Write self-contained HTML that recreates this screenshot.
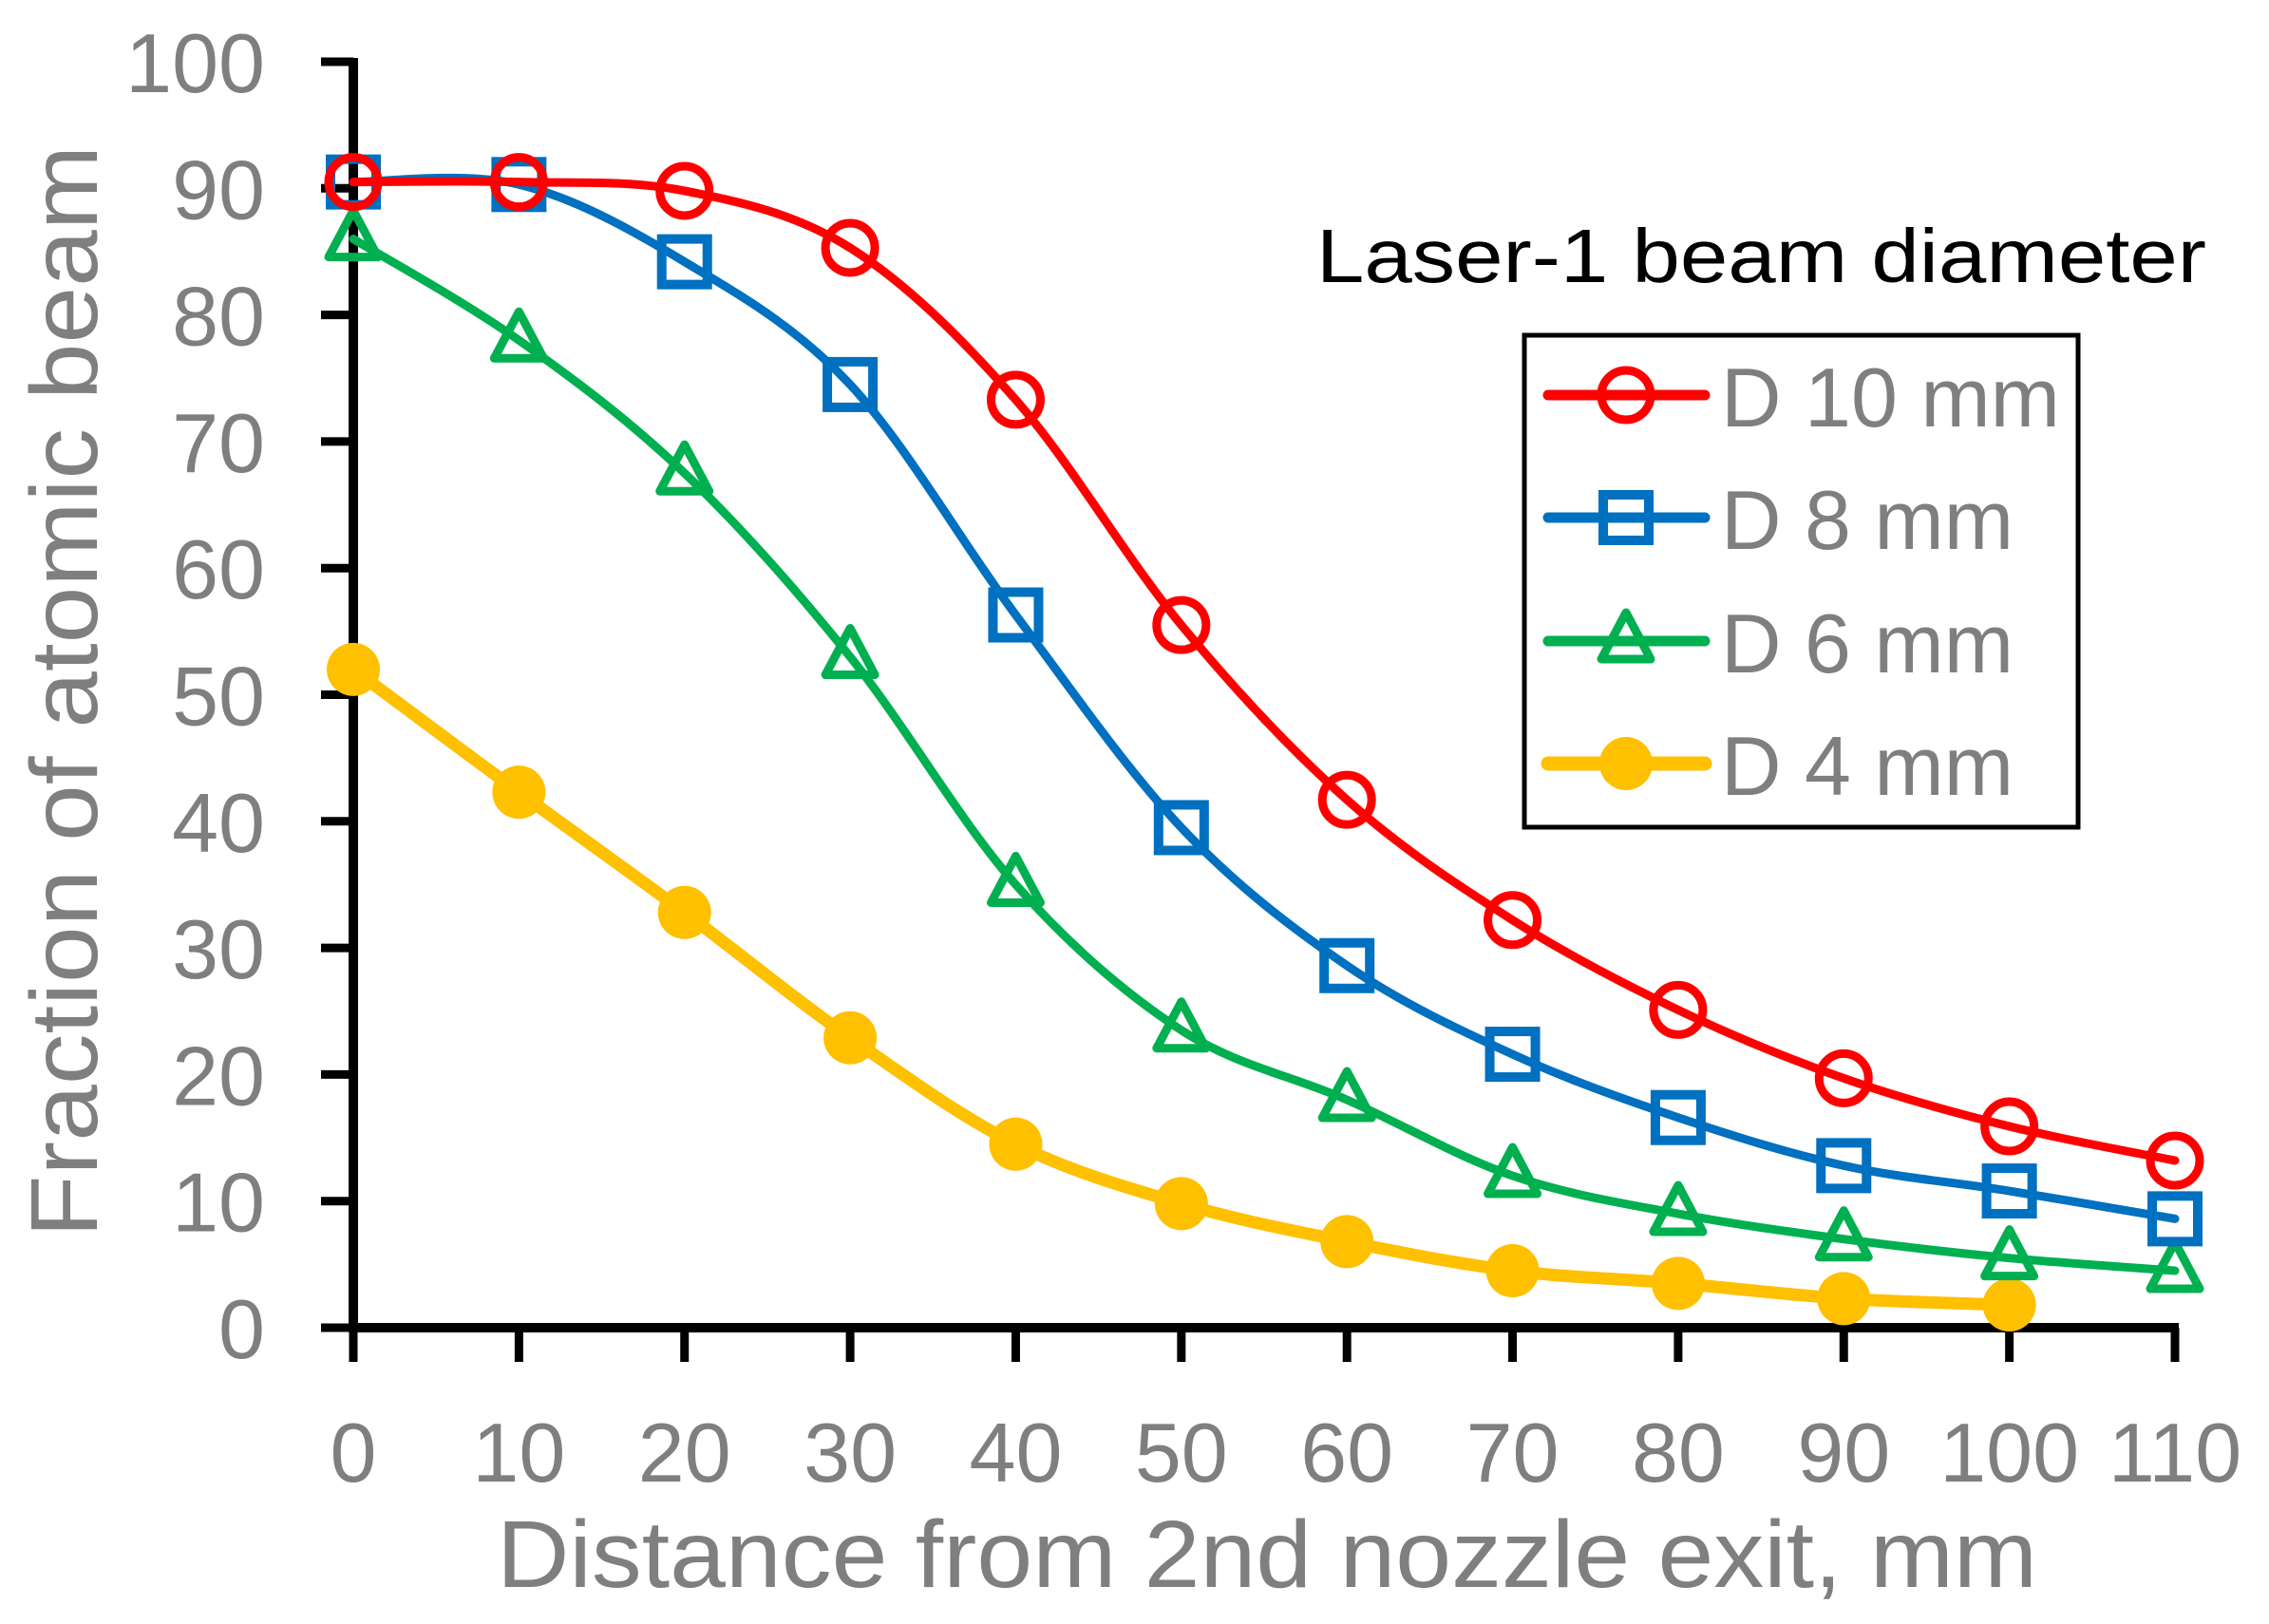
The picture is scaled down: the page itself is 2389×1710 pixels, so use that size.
<!DOCTYPE html>
<html><head><meta charset="utf-8"><style>
html,body{margin:0;padding:0;background:#fff;}
svg{display:block;}
text{font-family:"Liberation Sans",sans-serif;}
</style></head><body>
<svg id="chart" width="2389" height="1710" viewBox="0 0 2389 1710" xmlns="http://www.w3.org/2000/svg">
<g id="axes"></g>
<g id="series"></g>
<g id="legend"></g>
</svg>
<script>
const xValues=[0,10,20,30,40,50,60,70,80,90,100,110];
const xTicks=[0,10,20,30,40,50,60,70,80,90,100,110];
const yTicks=[0,10,20,30,40,50,60,70,80,90,100];
const d10=[90.5,90.5,89.8,85.3,73.3,55.5,41.7,32.2,25.1,19.7,15.9,13.2];
const d8=[90.5,90.3,84.2,74.5,56.3,39.5,28.6,21.6,16.6,12.8,10.8,8.6];
const d6=[86,78,67.5,53,35,23.5,18,12,9,7,5.5,4.5];
const d4=[52,42.3,32.8,22.9,14.5,9.8,6.8,4.5,3.5,2.3,1.8];
const seriesNames=["D 10 mm","D 8 mm","D 6 mm","D 4 mm"];

const NS="http://www.w3.org/2000/svg";
const X0=372,X1=2290,Y0=1398,Y1=65;
const xs=v=>X0+(v-0)/(110-0)*(X1-X0);
const ys=v=>Y0-(v-0)/(100-0)*(Y0-Y1);
function mk(tag,attrs,parent){const e=document.createElementNS(NS,tag);for(const k in attrs)e.setAttribute(k,attrs[k]);parent.appendChild(e);return e;}
const axes=document.getElementById('axes');
const gS=document.getElementById('series');
const gL=document.getElementById('legend');

let e=mk('line',{x1:X0,y1:Y1-4,x2:X0,y2:Y0+4,stroke:'#000','stroke-width':10},axes);


e=mk('line',{x1:X0-5,y1:Y0,x2:X1+4,y2:Y0,stroke:'#000','stroke-width':10},axes);


yTicks.forEach(t=>{
  const y=ys(t);
  let l=mk('line',{x1:X0-34,y1:y,x2:X0,y2:y,stroke:'#000','stroke-width':9},axes);
  
  
  let tx=mk('text',{x:279,y:y+32,'text-anchor':'end','font-size':88,fill:'#7f7f7f'},axes);
  tx.textContent=t;
  
  
});
xTicks.forEach(t=>{
  const x=xs(t);
  let l=mk('line',{x1:x,y1:Y0,x2:x,y2:Y0+36,stroke:'#000','stroke-width':9},axes);
  
  
  let tx=mk('text',{x:x,y:1560,'text-anchor':'middle','font-size':88,fill:'#7f7f7f'},axes);
  tx.textContent=t;
  
  
});
let xt=mk('text',{x:523,y:1671,'font-size':100,fill:'#7f7f7f',textLength:1622,lengthAdjust:'spacingAndGlyphs'},axes);
xt.textContent='Distance from 2nd nozzle exit, mm';


let yt=mk('text',{x:0,y:0,'font-size':100,fill:'#7f7f7f',textLength:1150,lengthAdjust:'spacingAndGlyphs','text-anchor':'middle',transform:'translate(102,728) rotate(-90)'},axes);
yt.textContent='Fraction of atomic beam';



function spline(pts){
  let d='M'+pts[0][0]+','+pts[0][1];
  for(let i=0;i<pts.length-1;i++){
    const p0=pts[i-1]||pts[i],p1=pts[i],p2=pts[i+1],p3=pts[i+2]||pts[i+1];
    const c1=[p1[0]+(p2[0]-p0[0])/6,p1[1]+(p2[1]-p0[1])/6];
    const c2=[p2[0]-(p3[0]-p1[0])/6,p2[1]-(p3[1]-p1[1])/6];
    d+=' C'+c1[0]+','+c1[1]+' '+c2[0]+','+c2[1]+' '+p2[0]+','+p2[1];
  }
  return d;
}
function marker(type,color,cx,cy,parent){
  let m;
  if(type==='circle') m=mk('circle',{cx:cx,cy:cy,r:26,fill:'none',stroke:color,'stroke-width':9},parent);
  else if(type==='square') m=mk('rect',{x:cx-24,y:cy-24,width:48,height:48,fill:'none',stroke:color,'stroke-width':10},parent);
  else if(type==='triangle') m=mk('polygon',{points:(cx)+','+(cy-30)+' '+(cx+26)+','+(cy+19)+' '+(cx-26)+','+(cy+19),fill:'none',stroke:color,'stroke-width':9,'stroke-linejoin':'round'},parent);
  else m=mk('circle',{cx:cx,cy:cy,r:28,fill:color},parent);
  return m;
}
const seriesData=[d10,d8,d6,d4];
const colors=['#ff0000','#0070c0','#00b050','#ffc000'];
const mtypes=['circle','square','triangle','dot'];
const widths=[9,9,9,13];
const keys=['d10','d8','d6','d4'];
[3,2,1,0].forEach(si=>{
  const g=mk('g',{},gS);
  
  
  const vals=seriesData[si];
  const pts=vals.map((v,i)=>[xs(xValues[i]),ys(v)]);
  const p=mk('path',{d:spline(pts),fill:'none',stroke:colors[si],'stroke-width':widths[si],'stroke-linecap':'round'},g);
  
  
  pts.forEach(pt=>{
    const m=marker(mtypes[si],colors[si],pt[0],pt[1],g);
    
    
  });
});

let lt=mk('text',{x:1386,y:297,'font-size':80,fill:'#000',textLength:937,lengthAdjust:'spacingAndGlyphs'},gL);
lt.textContent='Laser-1 beam diameter';


let box=mk('rect',{x:1605,y:353,width:583,height:518,fill:'#fff',stroke:'#000','stroke-width':5},gL);


const legY=[416,545,675,804];
seriesNames.forEach((n,i)=>{
  const g=mk('g',{},gL);
  
  
  mk('line',{x1:1630,y1:legY[i],x2:1795,y2:legY[i],stroke:colors[i],'stroke-width':widths[i]+2,'stroke-linecap':'round'},g);
  marker(mtypes[i],colors[i],1712,legY[i],g);
  const t=mk('text',{x:1812,y:legY[i]+33,'font-size':88,fill:'#7f7f7f'},g);
  t.textContent=n;
});
</script>
</body></html>
